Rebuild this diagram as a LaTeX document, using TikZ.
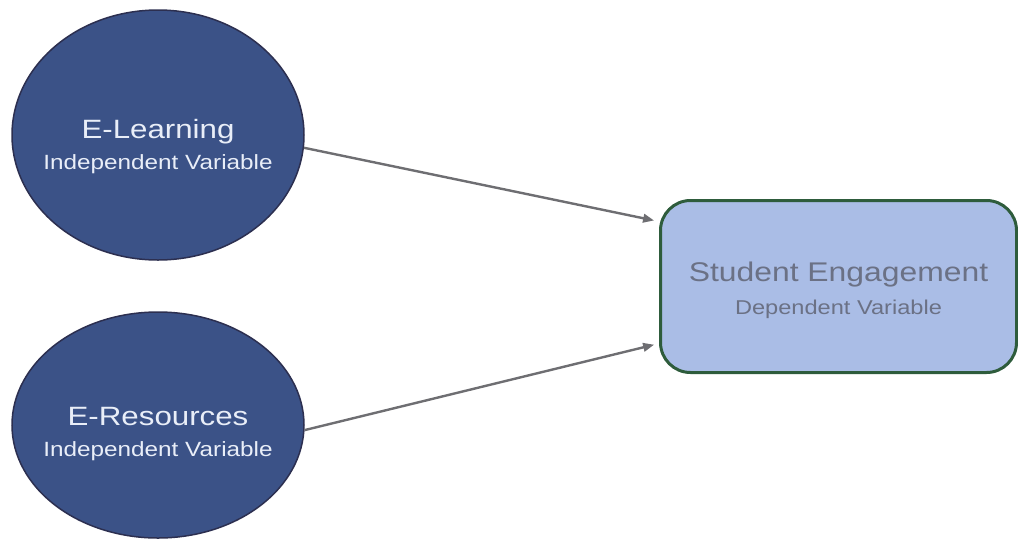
\documentclass[tikz,border=0pt]{standalone}
\usepackage{fontspec}
\setmainfont{Liberation Sans}
\newfontfamily\widesans[FakeStretch=1.18]{Liberation Sans}
\usetikzlibrary{arrows.meta,calc,shapes.geometric}
\definecolor{ivfill}{HTML}{3B5287}
\definecolor{ivedge}{HTML}{2C2F50}
\definecolor{ivtext}{HTML}{E9EEF8}
\definecolor{dvfill}{HTML}{AABDE6}
\definecolor{dvedge}{HTML}{2E5C3C}
\definecolor{dvtext}{HTML}{6B7185}
\definecolor{link}{HTML}{6E6E72}
\tikzset{
  ivnode/.style={ellipse, draw=ivedge, line width=1.5pt, fill=ivfill,
    minimum width=292pt, inner sep=0pt},
  ivlabel/.style={text=ivtext, align=center,
    font=\widesans\fontsize{26.5}{31}\selectfont},
  dvnode/.style={rectangle, rounded corners=30pt, draw=dvedge, line width=3pt,
    fill=dvfill, minimum width=356pt, minimum height=172pt},
  dvlabel/.style={text=dvtext, align=center,
    font=\widesans\fontsize{27}{33}\selectfont},
  link/.style={draw=link, line width=2.4pt,
    -{Triangle[length=11pt,width=8.5pt]}, shorten >=5pt},
}
\begin{document}
\begin{tikzpicture}[x=1pt,y=-1pt]
  \useasboundingbox (0,0) rectangle (1018,542);
  \node[ivnode, minimum height=250pt,
    label={[ivlabel, yshift=-12pt]center:{E-Learning\\{\fontsize{20.6}{31}\selectfont Independent Variable}}}]
    (elearn) at (158,135) {};
  \node[ivnode, minimum height=226pt,
    label={[ivlabel, yshift=-9pt]center:{E-Resources\\{\fontsize{20.6}{31}\selectfont Independent Variable}}}]
    (eres) at (158,425) {};
  \node[dvnode,
    label={[dvlabel, yshift=-4pt]center:{Student Engagement\\{\fontsize{20}{33}\selectfont Dependent Variable}}}]
    (engage) at (838.5,286.5) {};
  \draw[link] (elearn.-5) -- ($(engage.west)+(0,-65)$);
  \draw[link] (eres.-2.7) -- ($(engage.west)+(0,57)$);
\end{tikzpicture}
\end{document}
